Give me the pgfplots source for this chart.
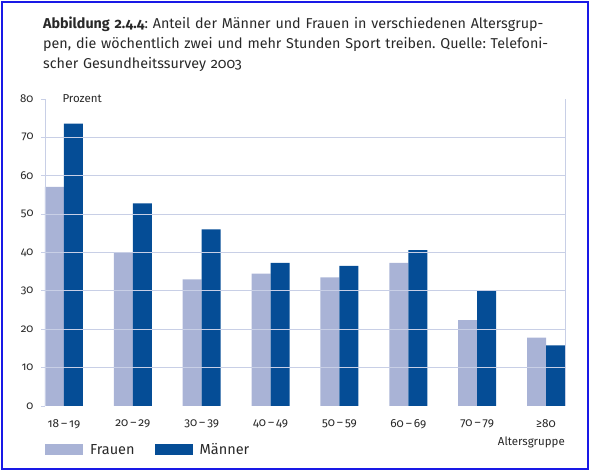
\documentclass[border=0pt]{standalone}
\usepackage{fontspec}
\setmainfont{Fira Sans}[Numbers=OldStyle]
\usepackage{pgfplots}
\pgfplotsset{compat=1.18}

\definecolor{frauen}{RGB}{169,179,214}
\definecolor{maenner}{RGB}{5,77,150}
\definecolor{gridc}{RGB}{200,207,230}
\definecolor{framec}{RGB}{25,25,230}
\definecolor{txt}{RGB}{40,40,40}

\begin{document}
\frenchspacing
\begin{tikzpicture}[x=1pt,y=1pt]
\useasboundingbox (0,0) rectangle (590,471);
\draw[framec, line width=2.5pt] (2,2) rectangle (588,469);
\node[anchor=north west, inner sep=0pt, text width=540pt, align=left,
      font=\fontsize{14.3}{20}\selectfont, text=txt] at (43,454)
  {\textbf{Abbildung 2.4.4}: Anteil der Männer und Frauen in verschiedenen Altersgrup-\\
   pen, die wöchentlich zwei und mehr Stunden Sport treiben. Quelle: Telefoni-\\
   scher Gesundheitssurvey 2003};

\begin{axis}[
    at={(45pt,65pt)}, anchor=south west,
    scale only axis, width=520pt, height=307pt,
    ybar=0pt, bar width=19pt,
    xmin=-0.2755, xmax=7.2755, ymin=0, ymax=80,
    xtick={0,...,7},
    xticklabels={18\,–\,19,20\,–\,29,30\,–\,39,40\,–\,49,50\,–\,59,60\,–\,69,70\,–\,79,≥80},
    ytick={0,10,...,80},
    extra y ticks={10,20,...,70},
    extra y tick labels={},
    extra y tick style={grid=major, major tick length=0pt},
    grid style={gridc, line width=0.8pt},
    axis on top,
    separate axis lines,
    x axis line style={draw=none},
    y axis line style={draw=gridc, line width=0.8pt},
    ytick pos=left, tick align=outside, major tick length=4pt,
    ytick style={draw=gridc, line width=0.8pt},
    xtick style={draw=none},
    /pgf/number format/assume math mode=true,
    yticklabel style={font=\fontsize{11.5}{13}\selectfont, text=txt, xshift=-4pt},
    xticklabel style={font=\fontsize{11.8}{13}\selectfont, text=txt, yshift=-6pt},
    ylabel={Prozent},
    every axis y label/.style={at={(rel axis cs:0,1)}, anchor=west, xshift=14pt,
        font=\fontsize{11.5}{13}\selectfont, text=txt},
    xlabel={Altersgruppe},
    every axis x label/.style={at={(rel axis cs:1,0)}, anchor=north east, yshift=-31pt,
        inner sep=0pt, font=\fontsize{11.5}{13}\selectfont, text=txt},
    legend columns=2,
    legend style={at={(rel axis cs:0,0)}, anchor=west, yshift=-44pt,
        draw=none, fill=none, inner sep=0pt,
        font=\fontsize{14.5}{16}\selectfont, text=txt,
        /tikz/every odd column/.append style={column sep=5pt},
        /tikz/every even column/.append style={column sep=18pt}},
    legend image code/.code={\fill[#1,draw=none] (0pt,-5.5pt) rectangle (38pt,5.5pt);},
]
\addplot[fill=frauen, draw=none] coordinates {
    (0,57.1) (1,40.0) (2,33.0) (3,34.5) (4,33.5) (5,37.3) (6,22.4) (7,17.8)
};
\addplot[fill=maenner, draw=none] coordinates {
    (0,73.6) (1,52.8) (2,46.0) (3,37.3) (4,36.5) (5,40.6) (6,30.0) (7,15.8)
};
\legend{Frauen, Männer}
\end{axis}
\end{tikzpicture}
\end{document}
